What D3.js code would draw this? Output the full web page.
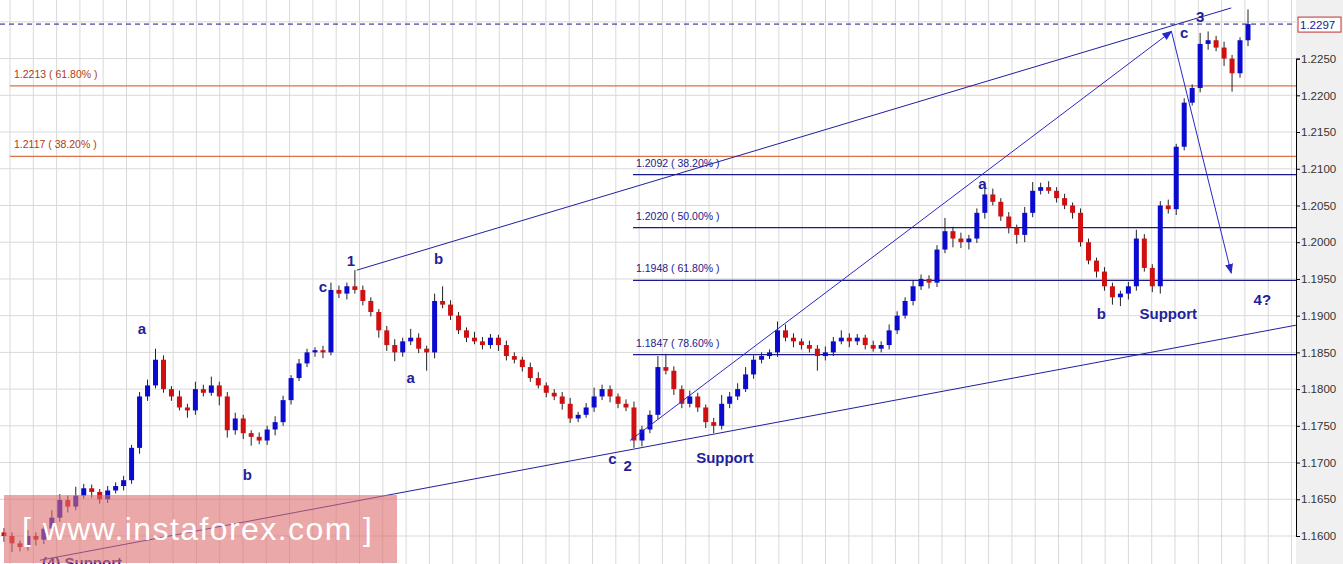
<!DOCTYPE html>
<html><head><meta charset="utf-8">
<script src="https://cdn.jsdelivr.net/npm/d3@7"></script>
<style>body{margin:0;background:#fff}svg{display:block}</style></head>
<body><svg id="c" width="1343" height="564"></svg>
<script>
const closes=[1.1600,1.1590,1.1585,1.1600,1.1595,1.1610,1.1625,1.1649,1.1640,1.1655,1.1665,1.1660,1.1650,1.1662,1.1668,1.1676,1.1720,1.1790,1.1805,1.1840,1.1800,1.1790,1.1775,1.1771,1.1800,1.1795,1.1805,1.1790,1.1744,1.1760,1.1740,1.1735,1.1730,1.1745,1.1755,1.1785,1.1815,1.1835,1.1850,1.1853,1.1850,1.1935,1.1930,1.1940,1.1935,1.1920,1.1905,1.1880,1.1860,1.1850,1.1865,1.1870,1.1855,1.1850,1.1920,1.1915,1.1900,1.1880,1.1870,1.1865,1.1860,1.1870,1.1860,1.1845,1.1840,1.1830,1.1815,1.1805,1.1795,1.1790,1.1780,1.1760,1.1765,1.1775,1.1790,1.1800,1.1790,1.1780,1.1775,1.1730,1.1745,1.1765,1.1830,1.1825,1.1800,1.1780,1.1790,1.1775,1.1755,1.1750,1.1780,1.1790,1.1800,1.1820,1.1840,1.1845,1.1850,1.1880,1.1870,1.1865,1.1860,1.1855,1.1845,1.1850,1.1865,1.1870,1.1865,1.1870,1.1860,1.1855,1.1860,1.1880,1.1900,1.1920,1.1940,1.1950,1.1945,1.1990,1.2015,1.2005,1.2000,1.2005,1.2040,1.2065,1.2055,1.2035,1.2020,1.2010,1.2040,1.2070,1.2075,1.2070,1.2060,1.2050,1.2040,1.2000,1.1975,1.1960,1.1940,1.1925,1.1930,1.1940,1.2005,1.1965,1.1940,1.2050,1.2045,1.2130,1.2190,1.2210,1.2270,1.2275,1.2265,1.2250,1.2230,1.2275,1.2297];
const upWick=[6,5,4,8,5,6,10,8,6,12,6,5,4,6,5,6,4,6,8,15,6,4,8,5,10,6,12,5,6,8,5,4,6,5,8,6,4,6,5,4,6,10,6,5,22,6,5,4,6,8,5,12,6,4,10,20,6,5,4,8,6,5,4,6,5,4,6,8,4,5,6,8,4,6,12,6,5,4,6,8,5,6,15,18,6,5,8,5,4,6,12,6,8,10,6,5,4,12,8,6,4,6,5,8,6,10,6,5,4,6,5,8,6,5,8,6,5,6,18,6,8,5,6,15,8,5,6,4,8,12,6,8,5,6,4,6,5,4,6,5,4,6,12,6,5,6,8,4,6,5,15,12,6,8,5,4,20];
const dnWick=[8,12,6,5,8,6,5,6,8,5,4,8,6,5,4,6,5,8,6,4,5,6,4,10,6,5,4,12,10,6,8,12,5,6,8,5,6,4,5,6,8,4,6,8,5,6,6,10,8,12,6,5,6,25,8,5,6,5,6,4,6,5,8,6,5,6,5,4,6,5,8,6,5,4,6,5,8,6,5,10,8,5,6,5,8,6,5,6,8,10,5,6,5,4,6,5,4,6,5,8,6,5,20,6,5,4,8,5,6,4,5,6,5,4,6,5,8,6,5,12,8,10,6,8,5,6,8,12,10,6,5,4,6,5,8,6,5,8,6,10,12,8,6,5,8,10,6,8,5,4,6,8,5,10,25,6,8];
const yTicks=[1.2250,1.2200,1.2150,1.2100,1.2050,1.2000,1.1950,1.1900,1.1850,1.1800,1.1750,1.1700,1.1650,1.1600];
const fibOrange=[{v:1.2213,t:"1.2213 ( 61.80% )"},{v:1.2117,t:"1.2117 ( 38.20% )"}];
const fibBlue=[{v:1.2092,t:"1.2092 ( 38.20% )"},{v:1.2020,t:"1.2020 ( 50.00% )"},{v:1.1948,t:"1.1948 ( 61.80% )"},{v:1.1847,t:"1.1847 ( 78.60% )"}];
const lastPrice=1.2297;
const waveLabels=[{i:43.5,p:1.1975,t:"1"},{i:40,p:1.1940,t:"c"},{i:17.3,p:1.1882,t:"a"},{i:30.5,p:1.1683,t:"b"},{i:51,p:1.1815,t:"a"},{i:54.5,p:1.1978,t:"b"},{i:76.3,p:1.1705,t:"c"},{i:78.2,p:1.1695,t:"2"},{i:122.7,p:1.2080,t:"a"},{i:137.6,p:1.1903,t:"b"},{i:148,p:1.2285,t:"c"},{i:150,p:1.2307,t:"3"},{i:157.8,p:1.1922,t:"4?"}];
const supportLabels=[{i:90.4,p:1.1707,t:"Support"},{i:146,p:1.1903,t:"Support"}];
const channelUp=[[44.25,1.1962],[153.9,1.2319]];
const channelLow=[[4.5,1.1567],[162,1.1887]];
const arrow1=[[78.5,1.1730],[146.4,1.2287]];
const arrow2=[[146.4,1.2287],[153.9,1.1958]];

const svg=d3.select("#c");
const W=1296;
const x=d3.scaleLinear().domain([0,156]).range([4,1248]);
const y=d3.scaleLinear().domain([1.1600,1.2250]).range([536,58.6]);
const navy="#1f1f9c";
svg.append("rect").attr("x",W).attr("y",0).attr("width",47).attr("height",564).attr("fill","#f0f0f0");
const defs=svg.append("defs");
defs.append("clipPath").attr("id","pc").append("rect").attr("width",W).attr("height",564);
defs.append("marker").attr("id","ah").attr("viewBox","0 0 10 10").attr("refX",9).attr("refY",5).attr("markerWidth",10).attr("markerHeight",10).attr("markerUnits","userSpaceOnUse").attr("orient","auto")
 .append("path").attr("d","M0,1L10,5L0,9Z").attr("fill","#2828c8");
const g=svg.append("g").attr("clip-path","url(#pc)");
const gy=d3.range(1.1550,1.2350,0.005);
g.selectAll(".gh").data(gy).join("line").attr("x1",0).attr("x2",W).attr("y1",d=>y(d)).attr("y2",d=>y(d)).attr("stroke","#d9d9d9");
g.selectAll(".gv").data(d3.range(0,W,23.3)).join("line").attr("x1",d=>d+10).attr("x2",d=>d+10).attr("y1",0).attr("y2",564).attr("stroke","#d9d9d9");
g.selectAll(".fo").data(fibOrange).join("line").attr("x1",10).attr("x2",W).attr("y1",d=>y(d.v)).attr("y2",d=>y(d.v)).attr("stroke","#d9704a").attr("stroke-width",1.2);
g.selectAll(".fot").data(fibOrange).join("text").attr("x",14).attr("y",d=>y(d.v)-8).text(d=>d.t).attr("font-family","Arial").attr("font-size",10.5).attr("fill","#b03a10");
g.selectAll(".fb").data(fibBlue).join("line").attr("x1",633).attr("x2",W).attr("y1",d=>y(d.v)).attr("y2",d=>y(d.v)).attr("stroke","#1a1a8a").attr("stroke-width",1.2);
g.selectAll(".fbt").data(fibBlue).join("text").attr("x",636).attr("y",d=>y(d.v)-8).text(d=>d.t).attr("font-family","Arial").attr("font-size",10.5).attr("fill","#1a1a8a");
const cd=closes.map((c,i)=>{const o=i?closes[i-1]:c+0.0005;return {i,o,c,h:Math.max(o,c)+upWick[i]/10000,l:Math.min(o,c)-dnWick[i]/10000};});
const cg=g.selectAll(".cd").data(cd).join("g");
cg.append("line").attr("x1",d=>x(d.i)).attr("x2",d=>x(d.i)).attr("y1",d=>y(d.h)).attr("y2",d=>y(d.l)).attr("stroke","#222").attr("stroke-width",1);
cg.append("rect").attr("x",d=>x(d.i)-2.5).attr("width",5).attr("y",d=>y(Math.max(d.o,d.c))).attr("height",d=>Math.max(1.5,Math.abs(y(d.o)-y(d.c)))).attr("fill",d=>d.c>=d.o?"#0b0bd0":"#d01010");
const ln=d3.line().x(d=>x(d[0])).y(d=>y(d[1]));
g.append("path").attr("d",ln(channelUp)).attr("stroke",navy).attr("fill","none");
g.append("path").attr("d",ln(channelLow)).attr("stroke",navy).attr("fill","none");
g.append("path").attr("d",ln(arrow1)).attr("stroke","#2828c8").attr("fill","none").attr("marker-end","url(#ah)");
g.append("path").attr("d",ln(arrow2)).attr("stroke","#2828c8").attr("fill","none").attr("marker-end","url(#ah)");
g.append("line").attr("x1",0).attr("x2",W).attr("y1",y(lastPrice)).attr("y2",y(lastPrice)).attr("stroke","#1a1a8a").attr("stroke-dasharray","5,4");
g.selectAll(".wl").data(waveLabels).join("text").attr("x",d=>x(d.i)).attr("y",d=>y(d.p)).attr("dy","0.35em").attr("text-anchor","middle").text(d=>d.t).attr("font-family","Arial").attr("font-weight","bold").attr("font-size",15).attr("fill",navy);
g.selectAll(".sl").data(supportLabels).join("text").attr("x",d=>x(d.i)).attr("y",d=>y(d.p)).attr("dy","0.35em").attr("text-anchor","middle").text(d=>d.t).attr("font-family","Arial").attr("font-weight","bold").attr("font-size",15).attr("fill",navy);
g.append("text").attr("x",42).attr("y",568).text("(4)  Support").attr("font-family","Arial").attr("font-weight","bold").attr("font-size",15).attr("fill",navy);
g.append("rect").attr("x",4).attr("y",495).attr("width",393).attr("height",68).attr("fill","rgba(222,110,110,0.6)");
g.append("text").attr("x",22).attr("y",540).text("[ www.instaforex.com ]").attr("font-family","Arial").attr("font-size",32).attr("fill","#fff").attr("textLength",350);
const ax=svg.append("g").attr("transform",`translate(${W},0)`).call(d3.axisRight(y).tickValues(yTicks).tickFormat(d3.format(".4f")).tickSize(4));
ax.select(".domain").attr("stroke","#000");
ax.selectAll("text").attr("font-family","Arial").attr("font-size",11.5).attr("fill","#333").attr("x",5);
svg.append("rect").attr("x",W+2).attr("y",y(lastPrice)-7).attr("width",43).attr("height",15).attr("fill","#fff").attr("stroke","#c03030");
svg.append("text").attr("x",W+4).attr("y",y(lastPrice)+4.5).text(lastPrice.toFixed(4)).attr("font-family","Arial").attr("font-size",11.5).attr("fill","#1a1a8a");
</script></body></html>
